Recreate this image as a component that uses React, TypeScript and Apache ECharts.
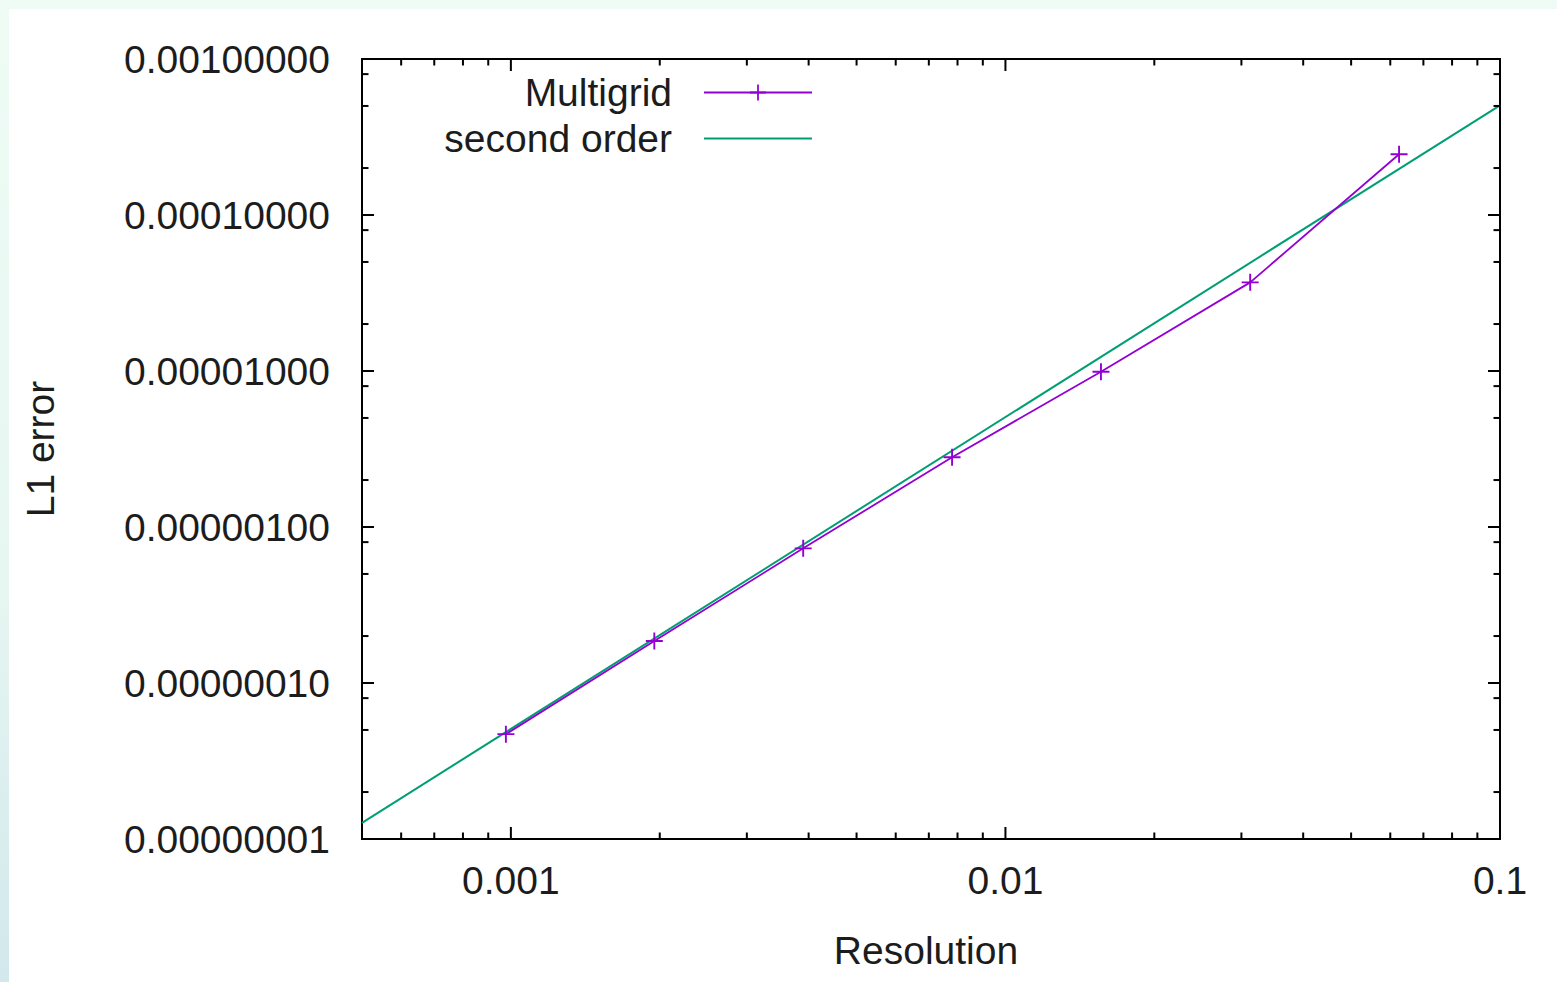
import React, { useEffect, useRef } from "react";
import * as echarts from "echarts";

// ---- data ----
const xRange = [0.0005, 0.1];
const yRange = [1e-8, 1e-3];

const multigridX = [0.000977, 0.00195, 0.0039, 0.0078, 0.0156, 0.03125, 0.0625];
const multigridY = [4.7e-8, 1.86e-7, 7.3e-7, 2.8e-6, 9.9e-6, 3.7e-5, 2.45e-4];

const secondOrderX = [0.0005, 0.1];
const secondOrderY = [1.27e-8, 5.05e-4];

const xMajorTicks = [0.001, 0.01, 0.1];
const xMinorTicks = [
  0.0006, 0.0007, 0.0008, 0.0009,
  0.002, 0.003, 0.004, 0.005, 0.006, 0.007, 0.008, 0.009,
  0.02, 0.03, 0.04, 0.05, 0.06, 0.07, 0.08, 0.09,
];
const yMajorTicks = [1e-8, 1e-7, 1e-6, 1e-5, 1e-4, 1e-3];
const yMinorTicks = [
  2e-8, 5e-8, 8e-8,
  2e-7, 5e-7, 8e-7,
  2e-6, 5e-6, 8e-6,
  2e-5, 5e-5, 8e-5,
  2e-4, 5e-4, 8e-4,
];

const seriesNames = ["Multigrid", "second order"];
const seriesColors = ["#9400d3", "#009e73"];

const FONT = "'Liberation Sans', Arial, sans-serif";
const FS = 39;
const TEXT_COLOR = "#1c1c1c";

function buildOption() {
  const xTickData = [
    ...xMajorTicks.map((v) => [v, yRange[0], 1]),
    ...xMinorTicks.map((v) => [v, yRange[0], 0]),
  ];
  const yTickData = [
    ...yMajorTicks.map((v) => [xRange[0], v, 1]),
    ...yMinorTicks.map((v) => [xRange[0], v, 0]),
  ];
  const tickStyle = { stroke: "#000", lineWidth: 2 };

  const legendBase = {
    orient: "vertical",
    align: "right",
    right: 739,
    itemWidth: 108,
    itemHeight: 20,
    padding: 5,
    textStyle: {
      fontSize: FS,
      fontFamily: FONT,
      color: TEXT_COLOR,
      padding: [0, 27, 0, 0],
    },
  };

  return {
    animation: false,
    backgroundColor: "transparent",
    textStyle: { fontFamily: FONT },
    grid: {
      left: 362,
      right: 57,
      top: 59,
      bottom: 143,
      show: true,
      borderColor: "#000",
      borderWidth: 2,
      backgroundColor: "transparent",
      containLabel: false,
    },
    legend: [
      { ...legendBase, top: 68, data: [seriesNames[0]] },
      {
        ...legendBase,
        top: 114,
        data: [
          {
            name: seriesNames[1],
            itemStyle: { color: "rgba(0,0,0,0)", borderWidth: 0, opacity: 0 },
          },
        ],
      },
    ],
    xAxis: {
      type: "log",
      logBase: 10,
      min: xRange[0],
      max: xRange[1],
      name: "Resolution",
      nameLocation: "middle",
      nameGap: 92,
      nameTextStyle: { fontSize: FS, fontFamily: FONT, color: TEXT_COLOR, padding: [0, 10, 0, 0] },
      axisLine: { show: false },
      axisTick: { show: false },
      splitLine: { show: false },
      minorTick: { show: false },
      axisLabel: {
        showMinLabel: false,
        margin: 22,
        fontSize: FS,
        fontFamily: FONT,
        color: TEXT_COLOR,
        formatter: (v: number) => String(+v.toPrecision(6)),
      },
    },
    yAxis: {
      type: "log",
      logBase: 10,
      min: yRange[0],
      max: yRange[1],
      name: "L1 error",
      nameLocation: "middle",
      nameRotate: 90,
      nameGap: 302,
      nameTextStyle: { fontSize: FS, fontFamily: FONT, color: TEXT_COLOR },
      axisLine: { show: false },
      axisTick: { show: false },
      splitLine: { show: false },
      minorTick: { show: false },
      axisLabel: {
        margin: 32,
        fontSize: FS,
        fontFamily: FONT,
        color: TEXT_COLOR,
        formatter: (v: number) => v.toFixed(8),
      },
    },
    series: [
      {
        name: seriesNames[0],
        type: "line",
        data: multigridX.map((x, i) => [x, multigridY[i]]),
        symbol:
          "path://M-1,-9L1,-9L1,-1L9,-1L9,1L1,1L1,9L-1,9L-1,1L-9,1L-9,-1L-1,-1Z",
        symbolSize: 17,
        showAllSymbol: true,
        color: seriesColors[0],
        itemStyle: { color: seriesColors[0] },
        lineStyle: { color: seriesColors[0], width: 1.8 },
        z: 4,
      },
      {
        name: seriesNames[1],
        type: "line",
        data: secondOrderX.map((x, i) => [x, secondOrderY[i]]),
        symbol: "none",
        showSymbol: false,
        color: seriesColors[1],
        lineStyle: { color: seriesColors[1], width: 2 },
        z: 3,
      },
      {
        type: "custom",
        silent: true,
        clip: false,
        z: 5,
        encode: { x: 0, y: 1 },
        data: xTickData,
        renderItem: (params: any, api: any) => {
          const v = api.value(0);
          const len = api.value(2) ? 12 : 6.5;
          const b = api.coord([v, yRange[0]]);
          const t = api.coord([v, yRange[1]]);
          return {
            type: "group",
            children: [
              { type: "line", shape: { x1: b[0], y1: b[1], x2: b[0], y2: b[1] - len }, style: tickStyle },
              { type: "line", shape: { x1: t[0], y1: t[1], x2: t[0], y2: t[1] + len }, style: tickStyle },
            ],
          };
        },
      },
      {
        type: "custom",
        silent: true,
        clip: false,
        z: 5,
        encode: { x: 0, y: 1 },
        data: yTickData,
        renderItem: (params: any, api: any) => {
          const v = api.value(1);
          const len = api.value(2) ? 12 : 6.5;
          const l = api.coord([xRange[0], v]);
          const r = api.coord([xRange[1], v]);
          return {
            type: "group",
            children: [
              { type: "line", shape: { x1: l[0], y1: l[1], x2: l[0] + len, y2: l[1] }, style: tickStyle },
              { type: "line", shape: { x1: r[0], y1: r[1], x2: r[0] - len, y2: r[1] }, style: tickStyle },
            ],
          };
        },
      },
    ],
  };
}

export default function App() {
  const ref = useRef<HTMLDivElement>(null);
  useEffect(() => {
    if (!ref.current) return;
    const chart = echarts.init(ref.current, null, { renderer: "svg" });
    chart.setOption(buildOption() as any);
    return () => chart.dispose();
  }, []);
  return (
    <div
      style={{
        position: "fixed",
        left: 0,
        top: 0,
        width: 1557,
        height: 982,
        overflow: "hidden",
        background: "linear-gradient(to bottom, #effcf6 0%, #e6f6f1 60%, #d2e8ec 100%)",
      }}
    >
      <div
        style={{ position: "absolute", left: 9, top: 9, right: 0, bottom: 0, background: "#fff" }}
      />
      <div ref={ref} style={{ position: "absolute", left: 0, top: 0, width: 1557, height: 982 }} />
    </div>
  );
}
